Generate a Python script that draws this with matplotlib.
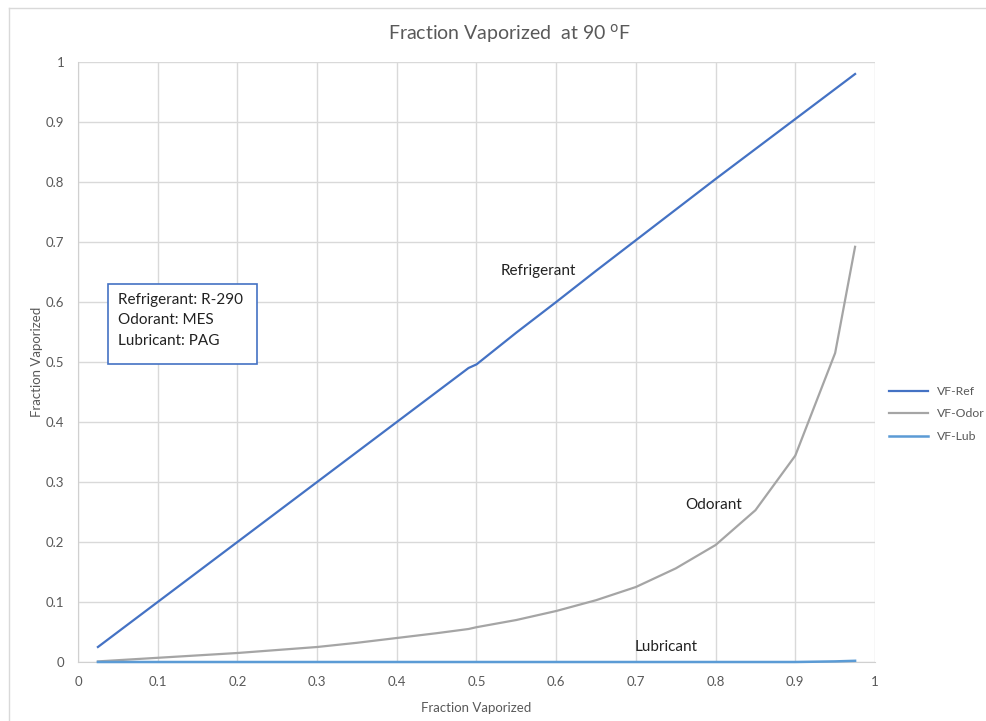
import matplotlib.pyplot as plt
from matplotlib.lines import Line2D
from matplotlib.patches import Rectangle

plt.rcParams['font.family'] = ['Lato', 'DejaVu Sans']

x = [0.025, 0.05, 0.1, 0.15, 0.2, 0.25, 0.3, 0.35, 0.4, 0.45, 0.49, 0.5, 0.55, 0.6,
     0.65, 0.7, 0.75, 0.8, 0.85, 0.9, 0.95, 0.975]
vf_ref = [0.025, 0.05, 0.1, 0.15, 0.2, 0.25, 0.3, 0.35, 0.4, 0.45, 0.49, 0.496, 0.549, 0.6,
          0.652, 0.703, 0.754, 0.805, 0.855, 0.905, 0.955, 0.98]
vf_odor = [0.001, 0.003, 0.007, 0.011, 0.015, 0.02, 0.025, 0.032, 0.04, 0.048, 0.055, 0.058, 0.07, 0.085,
           0.103, 0.125, 0.156, 0.195, 0.253, 0.344, 0.515, 0.692]
vf_lub = [0.0, 0.0, 0.0, 0.0, 0.0, 0.0, 0.0, 0.0, 0.0, 0.0, 0.0, 0.0, 0.0, 0.0,
          0.0, 0.0, 0.0, 0.0, 0.0, 0.0, 0.001, 0.002]

fig = plt.figure(figsize=(9.87, 7.21), dpi=100)
ax = fig.add_axes([78/987, 1-662/721, 797/987, 600/721])

ax.plot(x, vf_ref, color='#4472C4', lw=1.6, label='VF-Ref', zorder=3, clip_on=False)
ax.plot(x, vf_odor, color='#A5A5A5', lw=1.6, label='VF-Odor', zorder=3, clip_on=False)
ax.plot(x, vf_lub, color='#5B9BD5', lw=1.8, label='VF-Lub', zorder=4, clip_on=False)

ax.set_xlim(0, 1)
ax.set_ylim(0, 1)
ax.set_xticks([i/10 for i in range(11)])
ax.set_yticks([i/10 for i in range(11)])
ax.set_xticklabels(['0', '0.1', '0.2', '0.3', '0.4', '0.5', '0.6', '0.7', '0.8', '0.9', '1'])
ax.set_yticklabels(['0', '0.1', '0.2', '0.3', '0.4', '0.5', '0.6', '0.7', '0.8', '0.9', '1'])
ax.grid(True, color='#d9d9d9', lw=1)
ax.set_axisbelow(True)
for s in ['top', 'right']:
    ax.spines[s].set_visible(False)
for s in ['left', 'bottom']:
    ax.spines[s].set_color('#d0d0d0')
ax.tick_params(length=0, colors='#595959', labelsize=9.5, pad=10)

ax.set_xlabel('Fraction Vaporized', color='#595959', fontsize=9.5, labelpad=10)
ax.set_ylabel('Fraction Vaporized', color='#595959', fontsize=9.5, labelpad=2)
fig.text(510/987, 1-33/721, 'Fraction Vaporized  at 90 $^{\\mathrm{o}}$F', ha='center', va='center',
         fontsize=14, color='#595959')

ax.text(0.577, 0.652, 'Refrigerant', ha='center', va='center', fontsize=11, color='#222222')
ax.text(0.797, 0.262, 'Odorant', ha='center', va='center', fontsize=11, color='#222222')
ax.text(0.738, 0.025, 'Lubricant', ha='center', va='center', fontsize=11, color='#222222')

fig.patches.append(Rectangle((108/987, 1-364/721), 149/987, 80/721, transform=fig.transFigure,
                             fill=True, facecolor='white', edgecolor='#4472C4', lw=1.2, zorder=5))
for i, t in enumerate(['Refrigerant: R-290', 'Odorant: MES', 'Lubricant: PAG']):
    fig.text(118/987, 1-(300+20.5*i)/721, t, ha='left', va='center', fontsize=11,
             color='#222222', zorder=6)

leg = fig.legend(loc='center left', bbox_to_anchor=(889/987, 1-414/721), frameon=False,
                 fontsize=8.8, handlelength=3.2, handletextpad=0.7, labelspacing=0.95,
                 borderpad=0, borderaxespad=0)
for t in leg.get_texts():
    t.set_color('#595959')

fig.lines.append(Line2D([9/987, 9/987], [0, 1-8/721], transform=fig.transFigure, color='#d9d9d9', lw=1))
fig.lines.append(Line2D([9/987, 1], [1-8/721, 1-8/721], transform=fig.transFigure, color='#d9d9d9', lw=1))

fig.savefig('out.png', dpi=100)
